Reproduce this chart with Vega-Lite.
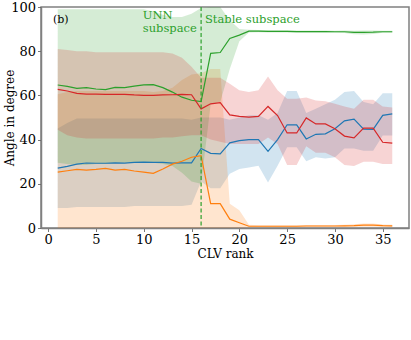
{
  "$schema": "https://vega.github.io/schema/vega-lite/v6.json",
  "autosize": "none",
  "width": 368,
  "height": 221,
  "padding": {"left": 41, "top": 7, "right": 2, "bottom": 112},
  "background": "white",
  "datasets": {
    "d": [
      {"r":1,"s":"C0","m":27.1,"lo":9,"hi":45},{"r":2,"s":"C0","m":27.9,"lo":9,"hi":47.5},{"r":3,"s":"C0","m":28.9,"lo":9.5,"hi":49.5},{"r":4,"s":"C0","m":29.4,"lo":9.5,"hi":49.5},{"r":5,"s":"C0","m":29.3,"lo":9.5,"hi":49.5},{"r":6,"s":"C0","m":29.3,"lo":9.5,"hi":49.5},{"r":7,"s":"C0","m":29.5,"lo":9.5,"hi":49.5},{"r":8,"s":"C0","m":29.4,"lo":9.5,"hi":49.5},{"r":9,"s":"C0","m":29.7,"lo":10,"hi":49.5},{"r":10,"s":"C0","m":29.8,"lo":10,"hi":49.5},{"r":11,"s":"C0","m":29.7,"lo":10,"hi":49.5},{"r":12,"s":"C0","m":29.7,"lo":10,"hi":49.5},{"r":13,"s":"C0","m":29.4,"lo":10,"hi":49.5},{"r":14,"s":"C0","m":29.5,"lo":10,"hi":49.5},{"r":15,"s":"C0","m":29.5,"lo":10.5,"hi":49},{"r":16,"s":"C0","m":36,"lo":21,"hi":50},{"r":17,"s":"C0","m":33.8,"lo":18,"hi":50},{"r":18,"s":"C0","m":33.5,"lo":18,"hi":50},{"r":19,"s":"C0","m":38.5,"lo":24.5,"hi":49},{"r":20,"s":"C0","m":39.5,"lo":26.7,"hi":50},{"r":21,"s":"C0","m":40,"lo":27.4,"hi":51},{"r":22,"s":"C0","m":40,"lo":28.2,"hi":51},{"r":23,"s":"C0","m":34.7,"lo":20.6,"hi":49},{"r":24,"s":"C0","m":40,"lo":28.2,"hi":52},{"r":25,"s":"C0","m":46.7,"lo":36.5,"hi":62},{"r":26,"s":"C0","m":46.7,"lo":36.5,"hi":62},{"r":27,"s":"C0","m":40.3,"lo":30.2,"hi":52},{"r":28,"s":"C0","m":42.4,"lo":32,"hi":54},{"r":29,"s":"C0","m":42.6,"lo":31.5,"hi":56},{"r":30,"s":"C0","m":44.9,"lo":32,"hi":58},{"r":31,"s":"C0","m":48.5,"lo":36,"hi":61.5},{"r":32,"s":"C0","m":49.3,"lo":36,"hi":62},{"r":33,"s":"C0","m":44.7,"lo":35,"hi":57},{"r":34,"s":"C0","m":44.6,"lo":35,"hi":56},{"r":35,"s":"C0","m":51,"lo":41.8,"hi":61},{"r":36,"s":"C0","m":51.6,"lo":41.8,"hi":61},
      {"r":1,"s":"C1","m":25.3,"lo":0,"hi":60.5},{"r":2,"s":"C1","m":25.9,"lo":0,"hi":61.5},{"r":3,"s":"C1","m":26.5,"lo":0,"hi":62},{"r":4,"s":"C1","m":26.2,"lo":0,"hi":62},{"r":5,"s":"C1","m":26.5,"lo":0,"hi":62},{"r":6,"s":"C1","m":27,"lo":0,"hi":62},{"r":7,"s":"C1","m":26.2,"lo":0,"hi":62},{"r":8,"s":"C1","m":26.5,"lo":0,"hi":62},{"r":9,"s":"C1","m":25.8,"lo":0,"hi":62},{"r":10,"s":"C1","m":25.3,"lo":0,"hi":62},{"r":11,"s":"C1","m":24.7,"lo":0,"hi":61.5},{"r":12,"s":"C1","m":26.7,"lo":0,"hi":62},{"r":13,"s":"C1","m":28.9,"lo":0,"hi":63.5},{"r":14,"s":"C1","m":30.2,"lo":0,"hi":67},{"r":15,"s":"C1","m":32,"lo":0,"hi":69.5},{"r":16,"s":"C1","m":32.7,"lo":0,"hi":70},{"r":17,"s":"C1","m":11,"lo":0,"hi":72},{"r":18,"s":"C1","m":11,"lo":0,"hi":72},{"r":19,"s":"C1","m":4,"lo":0,"hi":11},{"r":20,"s":"C1","m":2.4,"lo":0,"hi":8},{"r":21,"s":"C1","m":0.8,"lo":0.3,"hi":1.5},{"r":22,"s":"C1","m":0.8,"lo":0.3,"hi":1.3},{"r":23,"s":"C1","m":0.8,"lo":0.3,"hi":1.3},{"r":24,"s":"C1","m":0.8,"lo":0.3,"hi":1.3},{"r":25,"s":"C1","m":0.8,"lo":0.3,"hi":1.3},{"r":26,"s":"C1","m":0.8,"lo":0.3,"hi":1.3},{"r":27,"s":"C1","m":0.9,"lo":0.4,"hi":1.4},{"r":28,"s":"C1","m":0.9,"lo":0.4,"hi":1.4},{"r":29,"s":"C1","m":0.9,"lo":0.4,"hi":1.4},{"r":30,"s":"C1","m":0.9,"lo":0.4,"hi":1.4},{"r":31,"s":"C1","m":1,"lo":0.5,"hi":1.5},{"r":32,"s":"C1","m":1.1,"lo":0.5,"hi":1.7},{"r":33,"s":"C1","m":1.3,"lo":0.6,"hi":2},{"r":34,"s":"C1","m":1.3,"lo":0.6,"hi":2},{"r":35,"s":"C1","m":1.1,"lo":0.5,"hi":1.6},{"r":36,"s":"C1","m":1,"lo":0.5,"hi":1.5},
      {"r":1,"s":"C2","m":64.7,"lo":29.5,"hi":99},{"r":2,"s":"C2","m":64.1,"lo":29,"hi":99},{"r":3,"s":"C2","m":63.2,"lo":28.5,"hi":99},{"r":4,"s":"C2","m":63.5,"lo":28.5,"hi":99},{"r":5,"s":"C2","m":62.9,"lo":29,"hi":99},{"r":6,"s":"C2","m":62.6,"lo":29,"hi":99},{"r":7,"s":"C2","m":63.6,"lo":29.5,"hi":99},{"r":8,"s":"C2","m":63.5,"lo":29.5,"hi":99},{"r":9,"s":"C2","m":64.2,"lo":29.5,"hi":99},{"r":10,"s":"C2","m":64.8,"lo":29.5,"hi":99},{"r":11,"s":"C2","m":64.9,"lo":29.5,"hi":98},{"r":12,"s":"C2","m":63.5,"lo":29,"hi":96.5},{"r":13,"s":"C2","m":61.5,"lo":28,"hi":95.5},{"r":14,"s":"C2","m":59.2,"lo":25,"hi":95.5},{"r":15,"s":"C2","m":57.8,"lo":21,"hi":97},{"r":16,"s":"C2","m":57.2,"lo":20,"hi":99.5},{"r":17,"s":"C2","m":79,"lo":56,"hi":100},{"r":18,"s":"C2","m":79.4,"lo":57,"hi":100},{"r":19,"s":"C2","m":85.8,"lo":72,"hi":94},{"r":20,"s":"C2","m":87.3,"lo":84.5,"hi":90},{"r":21,"s":"C2","m":89.1,"lo":88.5,"hi":89.7},{"r":22,"s":"C2","m":89.1,"lo":88.6,"hi":89.6},{"r":23,"s":"C2","m":89,"lo":88.5,"hi":89.5},{"r":24,"s":"C2","m":89,"lo":88.5,"hi":89.5},{"r":25,"s":"C2","m":89,"lo":88.5,"hi":89.5},{"r":26,"s":"C2","m":88.9,"lo":88.4,"hi":89.4},{"r":27,"s":"C2","m":88.9,"lo":88.4,"hi":89.4},{"r":28,"s":"C2","m":88.9,"lo":88.4,"hi":89.4},{"r":29,"s":"C2","m":88.9,"lo":88.4,"hi":89.4},{"r":30,"s":"C2","m":88.8,"lo":88.3,"hi":89.3},{"r":31,"s":"C2","m":88.8,"lo":88.2,"hi":89.4},{"r":32,"s":"C2","m":88.5,"lo":87.7,"hi":89.3},{"r":33,"s":"C2","m":88.5,"lo":87.6,"hi":89.4},{"r":34,"s":"C2","m":88.6,"lo":87.8,"hi":89.4},{"r":35,"s":"C2","m":88.8,"lo":88.3,"hi":89.3},{"r":36,"s":"C2","m":88.8,"lo":88.3,"hi":89.3},
      {"r":1,"s":"C3","m":62.7,"lo":44.5,"hi":81},{"r":2,"s":"C3","m":62,"lo":42,"hi":80.5},{"r":3,"s":"C3","m":60.9,"lo":41,"hi":80},{"r":4,"s":"C3","m":60.6,"lo":40.5,"hi":80},{"r":5,"s":"C3","m":60.6,"lo":40.5,"hi":79.5},{"r":6,"s":"C3","m":60.5,"lo":40.5,"hi":79.5},{"r":7,"s":"C3","m":60.5,"lo":40.5,"hi":79.5},{"r":8,"s":"C3","m":60.5,"lo":40.5,"hi":79.5},{"r":9,"s":"C3","m":60.2,"lo":40.5,"hi":79.5},{"r":10,"s":"C3","m":60,"lo":40.5,"hi":79.5},{"r":11,"s":"C3","m":60,"lo":40.5,"hi":79.5},{"r":12,"s":"C3","m":60.2,"lo":41,"hi":79.5},{"r":13,"s":"C3","m":60.3,"lo":41,"hi":79},{"r":14,"s":"C3","m":60.5,"lo":41.5,"hi":77},{"r":15,"s":"C3","m":60.3,"lo":42,"hi":73},{"r":16,"s":"C3","m":53.9,"lo":42,"hi":68},{"r":17,"s":"C3","m":56.2,"lo":40,"hi":68},{"r":18,"s":"C3","m":56.7,"lo":39,"hi":68},{"r":19,"s":"C3","m":51.2,"lo":38,"hi":65.3},{"r":20,"s":"C3","m":50.5,"lo":38,"hi":62.3},{"r":21,"s":"C3","m":50.2,"lo":38,"hi":61.5},{"r":22,"s":"C3","m":50.5,"lo":38,"hi":62.3},{"r":23,"s":"C3","m":55,"lo":41,"hi":68.6},{"r":24,"s":"C3","m":50.9,"lo":38,"hi":62.3},{"r":25,"s":"C3","m":43,"lo":28.5,"hi":58.5},{"r":26,"s":"C3","m":43,"lo":28.5,"hi":58.5},{"r":27,"s":"C3","m":49.8,"lo":37,"hi":59},{"r":28,"s":"C3","m":47.1,"lo":34,"hi":57.7},{"r":29,"s":"C3","m":47.1,"lo":34,"hi":57.3},{"r":30,"s":"C3","m":44.9,"lo":32,"hi":56.2},{"r":31,"s":"C3","m":41.6,"lo":28.5,"hi":55},{"r":32,"s":"C3","m":40.8,"lo":28,"hi":54},{"r":33,"s":"C3","m":45.2,"lo":30,"hi":58},{"r":34,"s":"C3","m":45.2,"lo":30,"hi":58},{"r":35,"s":"C3","m":38.8,"lo":29,"hi":55},{"r":36,"s":"C3","m":38.4,"lo":29,"hi":54.5}
    ],
    "vline": [{"r": 16}],
    "tag": [{"r": 0.5, "v": 94, "t": "(b)"}],
    "notes": [
      {"r": 9.9, "v": 94.5, "t": "UNN\nsubspace"},
      {"r": 16.4, "v": 92.6, "t": "Stable subspace"}
    ]
  },
  "layer": [
    {
      "data": {"name": "d"},
      "mark": {"type": "area", "opacity": 0.2, "clip": true},
      "encoding": {
        "x": {"field": "r", "type": "quantitative", "scale": {"domain": [-0.75, 37.75], "nice": false, "zero": false},
              "axis": {"values": [0,5,10,15,20,25,30,35], "title": "CLV rank", "labelPadding": 2, "titlePadding": 2, "labelFlush": false}},
        "y": {"field": "lo", "type": "quantitative", "scale": {"domain": [0, 100], "nice": false},
              "axis": {"values": [0,20,40,60,80,100], "title": "Angle in degree", "labelPadding": 2, "titleX": -32, "titleBaseline": "middle"}},
        "y2": {"field": "hi"},
        "color": {"field": "s", "type": "nominal", "scale": {"domain": ["C0","C1","C2","C3"], "range": ["#1f77b4","#ff7f0e","#2ca02c","#d62728"]}, "legend": null}
      }
    },
    {
      "data": {"name": "d"},
      "mark": {"type": "line", "strokeWidth": 1.2, "clip": true},
      "encoding": {
        "x": {"field": "r", "type": "quantitative"},
        "y": {"field": "m", "type": "quantitative"},
        "color": {"field": "s", "type": "nominal", "legend": null}
      }
    },
    {
      "data": {"name": "vline"},
      "mark": {"type": "rule", "color": "#2ca02c", "strokeWidth": 1.2, "strokeDash": [4, 2.5]},
      "encoding": {"x": {"field": "r", "type": "quantitative"}}
    },
    {
      "data": {"name": "tag"},
      "mark": {"type": "text", "align": "left", "baseline": "middle", "font": "DejaVu Serif", "fontSize": 11, "color": "#000000"},
      "encoding": {
        "x": {"field": "r", "type": "quantitative"},
        "y": {"field": "v", "type": "quantitative"},
        "text": {"field": "t"}
      }
    },
    {
      "data": {"name": "notes"},
      "mark": {"type": "text", "align": "left", "baseline": "alphabetic", "font": "DejaVu Serif", "fontSize": 11.5, "lineHeight": 13, "lineBreak": "\n", "color": "#2ca02c"},
      "encoding": {
        "x": {"field": "r", "type": "quantitative"},
        "y": {"field": "v", "type": "quantitative"},
        "text": {"field": "t"}
      }
    }
  ],
  "config": {
    "view": {"stroke": "#808080", "strokeWidth": 1.5},
    "axis": {"labelFont": "DejaVu Serif", "titleFont": "DejaVu Serif", "labelFontSize": 13, "titleFontSize": 12, "titleFontWeight": "normal", "labelColor": "#000", "titleColor": "#000", "grid": false, "domainColor": "#808080", "domainWidth": 1.5, "tickColor": "#555", "tickSize": 3.5, "tickWidth": 0.8}
  }
}
